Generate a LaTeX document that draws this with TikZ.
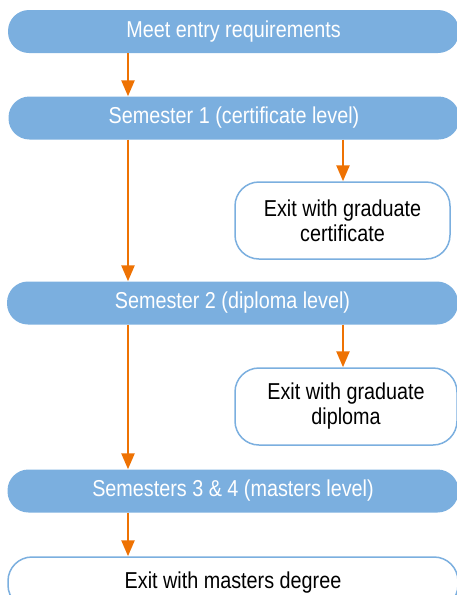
\documentclass[tikz,border=0pt]{standalone}
\usepackage{fontspec}
\setmainfont{Liberation Sans}[FakeStretch=0.86]
\usetikzlibrary{arrows.meta,positioning}
\definecolor{stageblue}{HTML}{7BAFDF}
\definecolor{floworange}{HTML}{EE7203}

\begin{document}
\begin{tikzpicture}[x=1pt,y=-1pt,
  font=\fontsize{23}{25}\selectfont,
  stage/.style={rectangle, rounded corners=21pt, fill=stageblue, text=white,
    minimum width=451pt, minimum height=43pt, inner sep=0pt},
  exitbox/.style={rectangle, rounded corners=24pt, draw=stageblue, line width=1.5pt,
    fill=white, text=black, align=center, minimum height=77pt, inner sep=0pt},
  flow/.style={draw=floworange, line width=2.5pt, -{Triangle[width=13pt,length=16pt]}}]
\useasboundingbox (0,0) rectangle (457,595);

% Columns for the arrows
\coordinate (lcol) at (128,0);
\coordinate (rcol) at (343,0);

% Stages
\node[stage] (entry) at (233.5,31.5) {Meet entry requirements};
\node[stage] (sem1) at (234,118) {Semester 1 (certificate level)};
\node[stage] (sem2) at (232.5,303) {Semester 2 (diploma level)};
\node[stage] (sem34) at (233,491) {Semesters 3 \& 4 (masters level)};

% Exits
\node[exitbox, minimum width=215pt] (cert) at (342.5,220.5) {Exit with graduate\\certificate};
\node[exitbox, minimum width=222pt] (dipl) at (346,406.5) {Exit with graduate\\diploma};
\node[exitbox, minimum width=450pt, minimum height=52pt] (masters) at (233,583) {Exit with masters degree};

% Arrows
\draw[flow] (entry.south -| lcol) -- (sem1.north -| lcol);
\draw[flow] (sem1.south -| lcol) -- (sem2.north -| lcol);
\draw[flow] (sem1.south -| rcol) -- (cert.north -| rcol);
\draw[flow] (sem2.south -| lcol) -- (sem34.north -| lcol);
\draw[flow] (sem2.south -| rcol) -- (dipl.north -| rcol);
\draw[flow] (sem34.south -| lcol) -- (masters.north -| lcol);
\end{tikzpicture}
\end{document}
